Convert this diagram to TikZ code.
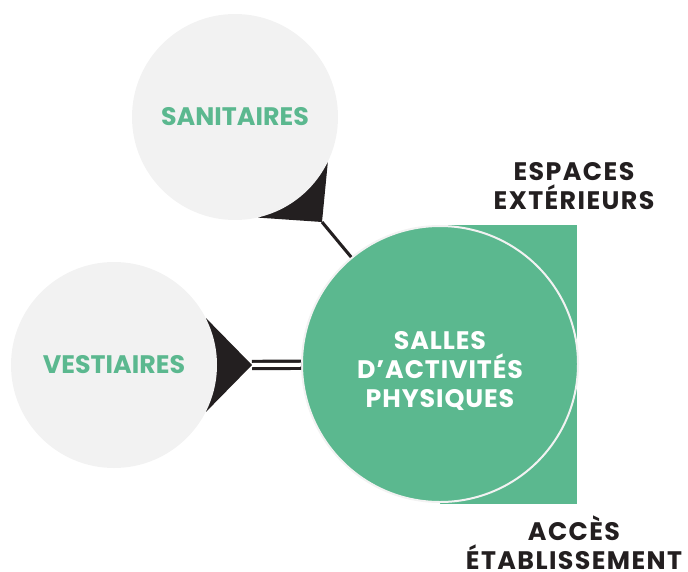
\documentclass[tikz,border=0pt]{standalone}
\usepackage{fontspec}
\setmainfont{Poppins}
\usetikzlibrary{backgrounds}
\definecolor{salle}{HTML}{5BB88F}
\definecolor{pale}{HTML}{F2F2F2}
\definecolor{encre}{HTML}{231F20}
\tikzset{
  label font/.style={font=\bfseries\fontsize{19}{22}\selectfont},
  room/.style={circle, fill=pale, minimum size=154.5pt, inner sep=0pt, text=salle, label font},
  hall/.style={circle, fill=salle, draw=pale, line width=1.5pt, minimum size=207pt, inner sep=0pt},
  hall text/.style={text=white, align=center, font=\bfseries\fontsize{19}{22}\selectfont\addfontfeature{LetterSpace=3.5}},
  zone/.style={text=encre, align=center, font=\bfseries\fontsize{19}{22}\selectfont\addfontfeature{LetterSpace=5.5}},
  fan/.style={fill=encre},
  link/.style={draw=encre, line width=2.3pt},
  twin/.style={draw=encre, line width=2.4pt, double=white, double distance=3pt}
}
\begin{document}
\begin{tikzpicture}[x=0.75pt,y=-0.75pt]
    \useasboundingbox (0,0) rectangle (688,571);

    \fill[salle] (440,225) rectangle (577,504);

    \node[hall] (salles) at (440,364) {};
    \node[hall text] (salles text) at (440,371) {SALLES\\D’ACTIVITÉS\\PHYSIQUES};
    \node[room] (sanitaires) at (235,117) {SANITAIRES};
    \node[room] (vestiaires) at (114,365) {VESTIAIRES};

    \coordinate (sanitaires tip) at (322,222);
    \coordinate (vestiaires tip) at (252,365);

    \node[zone] (exterieurs) at (574,186) {ESPACES\\EXTÉRIEURS};
    \node[zone] (acces) at (574,543) {ACCÈS\\ÉTABLISSEMENT};

    \begin{pgfonlayer}{background}
        \fill[fan] (sanitaires.-26) -- (sanitaires tip) -- (sanitaires.-77) -- cycle;
        \fill[fan] (vestiaires.27) -- (vestiaires tip) -- (vestiaires.-27) -- cycle;
    \end{pgfonlayer}

    \draw[link] (sanitaires tip) -- (salles);
    \draw[twin] (vestiaires tip) -- (salles);
\end{tikzpicture}
\end{document}
